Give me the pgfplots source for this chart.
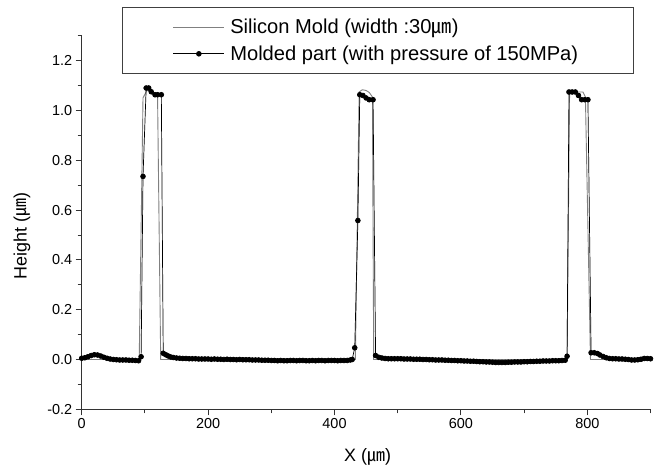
\documentclass[border=0pt]{standalone}
\usepackage{pgfplots}
\pgfplotsset{compat=1.18}
\usepackage{fontspec}
\setmainfont{Liberation Sans}
\newfontfamily\cjk{Noto Sans CJK KR}
\begin{document}
\begin{tikzpicture}
\begin{axis}[
  at={(0,0)}, anchor=south west,
  scale only axis, width=568.8bp, height=373.6bp,
  xmin=0, xmax=900, ymin=-0.2, ymax=1.3,
  axis x line*=bottom, axis y line*=left,
  axis line style={draw=black!80, line width=1bp},
  xtick={0,200,400,600,800}, minor xtick={100,300,500,700,900},
  ytick={-0.2,0,0.2,0.4,0.6,0.8,1.0,1.2},
  minor ytick={-0.1,0.1,0.3,0.5,0.7,0.9,1.1,1.3},
  tick align=outside,
  major tick length=6bp, minor tick length=4bp,
  tick style={draw=black!80, line width=0.9bp},
  /pgf/number format/assume math mode=true,
  tick label style={font=\fontsize{14.5}{16}\selectfont},
  yticklabel style={/pgf/number format/.cd, fixed, fixed zerofill, precision=1},
  xticklabel style={/pgf/number format/.cd, fixed, precision=0},
  scaled ticks=false,
  xlabel={X ({\cjk ㎛})},
  ylabel={Height ({\cjk ㎛})},
  label style={font=\fontsize{18}{20}\selectfont},
  xlabel style={at={(axis description cs:0.5026,-0.1277)}, anchor=center},
  ylabel style={at={(axis description cs:-0.105,0.464)}, anchor=center},
  legend style={at={(axis description cs:0.0716,1.0776)}, anchor=north west,
    draw=black!75, line width=1bp, font=\fontsize{20.2}{24}\selectfont,
    inner xsep=50bp, inner ysep=10.5bp, row sep=7.5bp,
    nodes={inner sep=1.5bp},
    /tikz/every odd column/.append style={column sep=4bp}},
  legend cell align=left,
  legend image code/.code={\draw[mark repeat=2, mark phase=2, #1] plot coordinates {(0bp,0bp) (25.5bp,0bp) (51bp,0bp)};},
]
\addplot[draw=black!50, line width=0.9bp, mark=none] coordinates {
(0,0) (91,0) (97,1.05) (103,1.08) (110,1.075) (117,1.065) (120,1.06) (125,0)
(433,0) (439,1.074) (444,1.083) (450,1.08) (455,1.072) (460,1.054) (462,0)
(768,0) (772,1.074) (793,1.074) (797,1.054) (805,0) (900,0)
};
\addlegendentry{Silicon Mold (width :30{\cjk ㎛})}
\addplot[black, line width=0.7bp, mark=*, mark size=2.4bp, mark options={solid, fill=black}] table {
x y
0 0.005
5 0.007
10 0.011
15 0.016
20 0.019
25 0.018
30 0.014
35 0.009
40 0.005
45 0.002
50 0.000
55 -0.001
60 -0.002
65 -0.002
70 -0.002
75 -0.003
80 -0.003
85 -0.004
90 -0.005
94 0.011
97 0.735
102 1.090
106 1.090
110 1.075
116 1.063
120 1.063
126 1.063
129 0.025
133 0.019
137 0.014
141 0.010
145 0.008
150 0.006
155 0.005
160 0.004
165 0.004
170 0.003
175 0.003
180 0.003
185 0.002
190 0.002
195 0.002
200 0.002
205 0.001
210 0.002
215 0.001
220 0.001
225 0.000
230 0.001
235 0.000
240 0.000
245 -0.001
250 0.000
255 -0.001
260 -0.001
265 -0.001
270 -0.002
275 -0.002
280 -0.002
285 -0.003
290 -0.003
295 -0.003
300 -0.004
305 -0.004
310 -0.005
315 -0.004
320 -0.005
325 -0.005
330 -0.004
335 -0.004
340 -0.005
345 -0.004
350 -0.004
355 -0.005
360 -0.005
365 -0.004
370 -0.005
375 -0.004
380 -0.004
385 -0.005
390 -0.004
395 -0.004
400 -0.004
405 -0.005
410 -0.004
415 -0.004
420 -0.004
425 -0.002
428 0.000
432 0.047
437 0.558
440 1.063
445 1.060
450 1.050
455 1.043
461 1.043
465 0.016
470 0.009
475 0.006
480 0.004
485 0.003
490 0.003
495 0.003
500 0.003
505 0.003
510 0.002
515 0.002
520 0.002
525 0.001
530 0.001
535 0.001
540 0.000
545 0.000
550 -0.001
555 -0.001
560 -0.002
565 -0.002
570 -0.002
575 -0.003
580 -0.003
585 -0.004
590 -0.004
595 -0.005
600 -0.005
605 -0.006
610 -0.006
615 -0.007
620 -0.007
625 -0.008
630 -0.009
635 -0.009
640 -0.010
645 -0.010
650 -0.011
655 -0.012
660 -0.012
665 -0.012
670 -0.012
675 -0.011
680 -0.011
685 -0.010
690 -0.010
695 -0.010
700 -0.009
705 -0.009
710 -0.008
715 -0.008
720 -0.007
725 -0.007
730 -0.006
735 -0.006
740 -0.006
745 -0.005
750 -0.005
755 -0.005
760 -0.004
765 -0.003
768 0.013
771 1.074
776 1.074
781 1.074
786 1.060
791 1.043
796 1.043
801 1.043
806 0.027
811 0.027
816 0.024
820 0.018
825 0.012
830 0.007
835 0.004
840 0.003
845 0.003
850 0.002
855 0.002
860 0.001
865 0.000
870 -0.002
875 -0.002
880 -0.001
885 0.001
890 0.004
895 0.004
900 0.003
};
\addlegendentry{Molded part (with pressure of 150MPa)\hspace*{4bp}}
\end{axis}
\pgfresetboundingbox
\path[use as bounding box] (-81.7bp,-58.7bp) rectangle (581.3bp,409.3bp);
\end{tikzpicture}
\end{document}
